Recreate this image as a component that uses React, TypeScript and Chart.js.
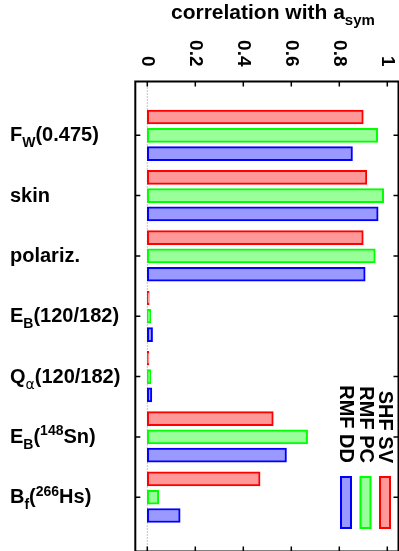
import React, { useEffect, useRef } from "react";
import { Chart, registerables } from "chart.js";

Chart.register(...registerables);

// Observables (rich-text markup: _{..} subscript, ^{..} superscript)
const categories = [
  "F_{W}(0.475)",
  "skin",
  "polariz.",
  "E_{B}(120/182)",
  "Q_{α}(120/182)",
  "E_{B}(^{148}Sn)",
  "B_{f}(^{266}Hs)",
];

const seriesNames = ["SHF SV", "RMF PC", "RMF DD"];

// correlation coefficients with a_sym for each model
const shfSv = [0.9, 0.915, 0.9, 0.008, 0.007, 0.525, 0.47];
const rmfPc = [0.96, 0.985, 0.95, 0.014, 0.015, 0.668, 0.048];
const rmfDd = [0.855, 0.962, 0.908, 0.022, 0.019, 0.58, 0.137];

const xTicks = [0, 0.2, 0.4, 0.6, 0.8, 1];
const xTickLabels = ["0", "0.2", "0.4", "0.6", "0.8", "1"];
const axisTitle = "correlation with a_{sym}";

const borderColors = ["#ff0000", "#00ff00", "#0000ff"];
const fillColors = ["#ff9999", "#99ff99", "#9999ff"];

const FONT = '"Liberation Sans", Arial, Helvetica, sans-serif';

type Seg = { t: string; kind: "n" | "sub" | "sup" };

function parseRich(s: string): Seg[] {
  const out: Seg[] = [];
  let i = 0;
  let buf = "";
  while (i < s.length) {
    const c = s[i];
    if ((c === "_" || c === "^") && s[i + 1] === "{") {
      if (buf) out.push({ t: buf, kind: "n" });
      buf = "";
      const end = s.indexOf("}", i);
      out.push({ t: s.slice(i + 2, end), kind: c === "_" ? "sub" : "sup" });
      i = end + 1;
    } else {
      buf += c;
      i++;
    }
  }
  if (buf) out.push({ t: buf, kind: "n" });
  return out;
}

function segFont(seg: Seg, size: number) {
  const sz = seg.kind === "n" ? size : Math.round(size * 0.7);
  const greek = /[α-ω]/.test(seg.t);
  return `${greek ? "normal" : "bold"} ${sz}px ${greek ? '"DejaVu Sans", sans-serif' : FONT}`;
}

function drawRich(ctx: CanvasRenderingContext2D, text: string, x: number, y: number, size: number) {
  let cx = x;
  for (const seg of parseRich(text)) {
    ctx.font = segFont(seg, size);
    const dy = seg.kind === "sub" ? size * 0.3 : seg.kind === "sup" ? -size * 0.38 : 0;
    ctx.fillText(seg.t, cx, y + dy);
    cx += ctx.measureText(seg.t).width;
  }
}

const framePlugin = {
  id: "frameAndText",
  beforeDatasetsDraw(chart: any) {
    const { ctx, chartArea: a, scales } = chart;
    const x0 = scales.x.getPixelForValue(0);
    ctx.save();
    ctx.strokeStyle = "#888";
    ctx.lineWidth = 1;
    ctx.setLineDash([1, 2]);
    ctx.beginPath();
    ctx.moveTo(x0, a.top);
    ctx.lineTo(x0, a.bottom);
    ctx.stroke();
    ctx.restore();
  },
  afterDraw(chart: any) {
    const { ctx, chartArea: a, scales } = chart;
    const xs = scales.x;
    const ys = scales.y;
    ctx.save();
    ctx.strokeStyle = "#000";
    ctx.fillStyle = "#000";

    // frame
    ctx.lineWidth = 2;
    ctx.strokeRect(a.left, a.top, a.right - a.left, a.bottom - a.top);

    // inward tick marks
    ctx.lineWidth = 1.5;
    const tl = 5;
    ctx.beginPath();
    for (const v of xTicks) {
      const px = xs.getPixelForValue(v);
      ctx.moveTo(px, a.top);
      ctx.lineTo(px, a.top + tl);
      ctx.moveTo(px, a.bottom);
      ctx.lineTo(px, a.bottom - tl);
    }
    categories.forEach((_, i) => {
      const py = ys.getPixelForValue(i);
      ctx.moveTo(a.left, py);
      ctx.lineTo(a.left + tl, py);
      ctx.moveTo(a.right, py);
      ctx.lineTo(a.right - tl, py);
    });
    ctx.stroke();

    // rotated tick labels above the frame
    ctx.font = `bold 19px ${FONT}`;
    xTicks.forEach((v, i) => {
      const px = xs.getPixelForValue(v);
      ctx.save();
      ctx.translate(px, a.top - 15);
      ctx.rotate(Math.PI / 2);
      ctx.textAlign = "right";
      ctx.textBaseline = "middle";
      ctx.fillText(xTickLabels[i], 0, 0);
      ctx.restore();
    });

    // axis title
    ctx.textAlign = "left";
    ctx.textBaseline = "alphabetic";
    drawRich(ctx, axisTitle, 171, 18.5, 21);

    // category labels
    categories.forEach((c, i) => {
      drawRich(ctx, c, 10, ys.getPixelForValue(i) + 6, 20);
    });

    // legend (rotated entries, left to right: last series first)
    const order = [2, 1, 0];
    order.forEach((s, k) => {
      const cx = a.right - 52.5 + k * 19.5;
      ctx.fillStyle = fillColors[s];
      ctx.fillRect(cx - 5, a.bottom - 74.5, 10, 51);
      ctx.strokeStyle = borderColors[s];
      ctx.lineWidth = 2;
      ctx.strokeRect(cx - 5, a.bottom - 74.5, 10, 51);
      ctx.fillStyle = "#000";
      ctx.save();
      ctx.translate(cx, a.bottom - 88.5);
      ctx.rotate(Math.PI / 2);
      ctx.font = `bold 20px ${FONT}`;
      ctx.textAlign = "right";
      ctx.textBaseline = "middle";
      ctx.fillText(seriesNames[s], 0, 0);
      ctx.restore();
    });
    ctx.restore();
  },
};

export default function App() {
  const ref = useRef<HTMLCanvasElement | null>(null);

  useEffect(() => {
    if (!ref.current) return;
    const series = [shfSv, rmfPc, rmfDd];
    const chart = new Chart(ref.current, {
      type: "bar",
      data: {
        datasets: series.map((vals, s) => ({
          label: seriesNames[s],
          data: vals.map((v, i) => ({ x: v, y: i })),
          backgroundColor: fillColors[s],
          borderColor: borderColors[s],
          borderWidth: 2,
          borderSkipped: false,
          barThickness: "flex",
          categoryPercentage: 0.91,
          barPercentage: 0.765,
        })),
      },
      options: {
        indexAxis: "y",
        responsive: false,
        animation: false,
        layout: { padding: { left: 135.3, top: 81.5, right: 3.5, bottom: 8.5 } },
        plugins: { legend: { display: false }, tooltip: { enabled: false }, title: { display: false } },
        scales: {
          x: { type: "linear", min: -0.05, max: 1.0467, bounds: "data", offset: false, display: false },
          y: {
            type: "linear",
            reverse: true,
            min: -0.892,
            max: 6.9,
            bounds: "data",
            offset: false,
            grid: { offset: false },
            display: false,
            ticks: { stepSize: 1, includeBounds: false },
          },
        },
      },
      plugins: [framePlugin],
    } as any);
    return () => chart.destroy();
  }, []);

  return (
    <div style={{ position: "fixed", left: 0, top: 0, width: 402, height: 560, background: "#fff" }}>
      <canvas ref={ref} width={402} height={560} />
    </div>
  );
}
